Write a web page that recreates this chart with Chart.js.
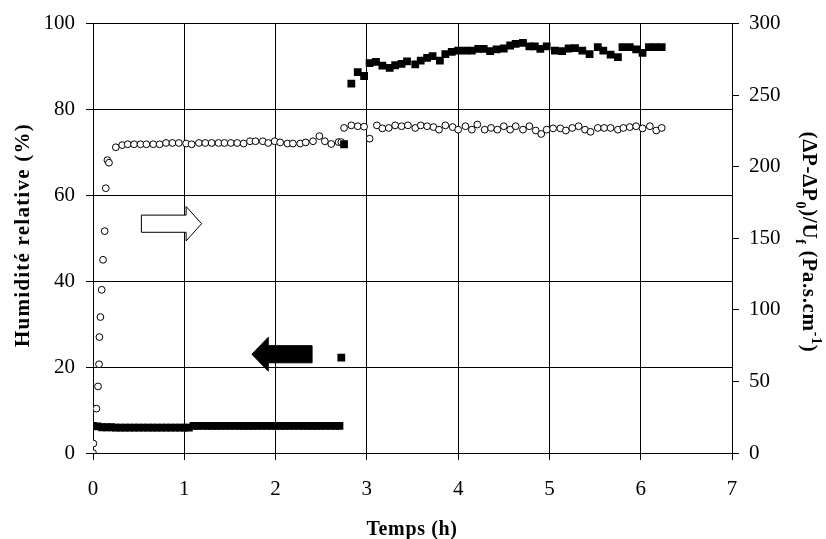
<!DOCTYPE html>
<html>
<head>
<meta charset="utf-8">
<script src="https://cdn.jsdelivr.net/npm/chart.js@4.4.1/dist/chart.umd.min.js"></script>
<style>
  html, body { margin: 0; padding: 0; background: #fff; }
  #wrap { position: relative; width: 826px; height: 539px; }
</style>
</head>
<body>
<div id="wrap"><canvas id="c"></canvas></div>
<script>
// humidity (left axis, %) - filled squares
const squareT = [0, 0.05, 0.1, 0.15, 0.2, 0.25, 0.3, 0.35, 0.4, 0.45, 0.5, 0.55, 0.6, 0.65, 0.7, 0.75, 0.8, 0.85, 0.9, 0.95,
  1.0, 1.05, 1.1, 1.15, 1.2, 1.25, 1.3, 1.35, 1.4, 1.45, 1.5, 1.55, 1.6, 1.65, 1.7, 1.75, 1.8, 1.85, 1.9, 1.95,
  2.0, 2.05, 2.1, 2.15, 2.2, 2.25, 2.3, 2.35, 2.4, 2.45, 2.5, 2.55, 2.6, 2.65, 2.7,
  2.72, 2.75, 2.83, 2.9, 2.97, 3.03, 3.1, 3.17, 3.25, 3.31, 3.38, 3.44, 3.53, 3.59, 3.66, 3.72, 3.8, 3.86, 3.93,
  4.0, 4.08, 4.15, 4.22, 4.28, 4.35, 4.42, 4.5, 4.57, 4.63, 4.71, 4.78, 4.84, 4.9, 4.97,
  5.06, 5.14, 5.21, 5.28, 5.36, 5.44, 5.53, 5.59, 5.67, 5.75, 5.8, 5.88, 5.95, 6.02, 6.09, 6.16, 6.23];
const squareV = [6.3, 6.2, 6.0, 6.0, 6.0, 5.9, 5.9, 5.9, 5.9, 5.9, 5.9, 5.9, 5.9, 5.9, 5.9, 5.9, 5.9, 5.9, 5.9, 5.9,
  5.9, 5.9, 6.3, 6.3, 6.3, 6.3, 6.3, 6.3, 6.3, 6.3, 6.3, 6.3, 6.3, 6.3, 6.3, 6.3, 6.3, 6.3, 6.3, 6.3,
  6.3, 6.3, 6.3, 6.3, 6.3, 6.3, 6.3, 6.3, 6.3, 6.3, 6.3, 6.3, 6.3, 6.3, 6.3,
  22.2, 71.9, 86.0, 88.7, 87.8, 90.8, 91.1, 90.2, 89.7, 90.3, 90.6, 91.2, 90.5, 91.4, 92.0, 92.4, 91.4, 92.9, 93.4,
  93.7, 93.7, 93.7, 94.1, 94.1, 93.6, 94.0, 94.2, 94.9, 95.3, 95.5, 94.7, 94.7, 94.1, 94.7,
  93.7, 93.6, 94.2, 94.3, 93.7, 92.9, 94.5, 93.7, 92.8, 92.2, 94.5, 94.5, 94.0, 93.2, 94.5, 94.5, 94.5];

// (dP-dP0)/Uf (right axis, Pa.s.cm-1) - open circles
const circleT = [0, 0.004, 0.037, 0.055, 0.066, 0.07, 0.081, 0.095, 0.11, 0.128, 0.14, 0.158, 0.175, 0.25,
  0.32, 0.38, 0.45, 0.52, 0.585, 0.66, 0.73, 0.8, 0.87, 0.94, 1.02, 1.08, 1.16, 1.23, 1.3, 1.375, 1.44, 1.51, 1.58, 1.65,
  1.72, 1.78, 1.86, 1.92, 1.99, 2.05, 2.13, 2.19, 2.27, 2.33, 2.41, 2.48, 2.54, 2.61, 2.69, 2.72,
  2.75, 2.83, 2.9, 2.97, 3.03, 3.11, 3.17, 3.24, 3.31, 3.38, 3.45, 3.53, 3.59, 3.66, 3.73, 3.79, 3.86, 3.94,
  4.0, 4.08, 4.15, 4.21, 4.29, 4.36, 4.43, 4.5, 4.57, 4.63, 4.71, 4.78, 4.85, 4.91, 4.97,
  5.04, 5.12, 5.18, 5.25, 5.32, 5.39, 5.45, 5.53, 5.6, 5.67, 5.75, 5.81, 5.88, 5.95, 6.02, 6.1, 6.17, 6.23];
const circleV = [0, 6.6, 31, 46.5, 62, 81, 95, 114, 135, 155, 185, 204.6, 202.8, 213.6,
  215.1, 215.7, 215.7, 215.7, 215.7, 215.7, 215.7, 216.6, 216.6, 216.6, 216.2, 215.7, 216.6, 216.6, 216.6, 216.6, 216.6, 216.6, 216.6, 216.2,
  217.8, 217.8, 217.8, 216.6, 217.8, 217.0, 216.2, 216.2, 216.2, 217.0, 217.8, 221.4, 217.8, 215.9, 217.2, 217.2,
  227.1, 228.9, 228.3, 228.0, 219.6, 228.9, 226.8, 227.1, 228.9, 228.3, 228.9, 227.1, 228.9, 228.3, 227.7, 225.9, 228.9, 227.7,
  225.9, 228.3, 225.9, 229.5, 225.9, 227.1, 225.9, 228.3, 225.9, 228.3, 225.9, 228.3, 225.3, 222.9, 225.9,
  226.8, 226.8, 225.3, 227.1, 228.3, 225.9, 224.4, 227.1, 227.1, 227.1, 225.9, 227.1, 227.7, 228.3, 226.8, 228.3, 225.3, 227.1];

const xTicks = [0, 1, 2, 3, 4, 5, 6, 7];
const leftTicks = [0, 20, 40, 60, 80, 100];
const rightTicks = [0, 50, 100, 150, 200, 250, 300];

const SERIF = "'Liberation Serif', 'Times New Roman', serif";
const TICK_FONT = { family: SERIF, size: 21 };

// draws text runs along a line, stretched with letter spacing to a given length
function drawRuns(ctx, runs, cx, cy, angle, size, length) {
  ctx.save();
  ctx.translate(cx, cy);
  ctx.rotate(angle);
  ctx.fillStyle = '#000';
  ctx.textBaseline = 'alphabetic';
  ctx.letterSpacing = '0px';
  let natural = 0, chars = 0;
  runs.forEach(r => {
    ctx.font = `bold ${Math.round(size * (r.s || 1))}px ${SERIF}`;
    natural += ctx.measureText(r.t).width;
    chars += r.t.length;
  });
  const sp = (length - natural) / chars;
  ctx.letterSpacing = sp.toFixed(2) + 'px';
  let x = -length / 2;
  runs.forEach(r => {
    ctx.font = `bold ${Math.round(size * (r.s || 1))}px ${SERIF}`;
    ctx.fillText(r.t, x, size * 0.35 + (r.dy || 0) * size);
    x += ctx.measureText(r.t).width;
  });
  ctx.restore();
}

function arrow(ctx, xs, ys, tail, base, tip, yc, body, head, fill) {
  const y = v => ys.getPixelForValue(v), x = v => xs.getPixelForValue(v);
  ctx.beginPath();
  ctx.moveTo(x(tail), y(yc + body));
  ctx.lineTo(x(base), y(yc + body));
  ctx.lineTo(x(base), y(yc + head));
  ctx.lineTo(x(tip), y(yc));
  ctx.lineTo(x(base), y(yc - head));
  ctx.lineTo(x(base), y(yc - body));
  ctx.lineTo(x(tail), y(yc - body));
  ctx.closePath();
  ctx.fillStyle = fill;
  ctx.fill();
  ctx.lineWidth = 1;
  ctx.strokeStyle = '#000';
  ctx.stroke();
}

const decor = {
  id: 'decor',
  afterDatasetsDraw(chart) {
    const { ctx, scales } = chart;
    ctx.save();
    arrow(ctx, scales.x, scales.y, 0.53, 1.02, 1.19, 53.4, 2.0, 4.0, '#fff');
    arrow(ctx, scales.x, scales.y, 2.40, 1.92, 1.74, 23.0, 2.0, 3.95, '#000');
    ctx.restore();
  },
  afterDraw(chart) {
    const { ctx } = chart;
    drawRuns(ctx, [{ t: 'Humidité relative (%)' }], 22, 235, -Math.PI / 2, 21, 224);
    drawRuns(ctx, [{ t: 'Temps (h)' }], 412, 528, 0, 20, 91);
    drawRuns(ctx, [
      { t: '(ΔP-ΔP' }, { t: '0', s: 0.65, dy: 0.3 }, { t: ')/U' }, { t: 'f', s: 0.65, dy: 0.3 },
      { t: ' (Pa.s.cm' }, { t: '-1', s: 0.65, dy: -0.45 }, { t: ')' }
    ], 810, 242, Math.PI / 2, 21, 221);
  }
};

const gridBase = { color: '#000', lineWidth: 1, tickLength: 7, tickColor: '#000' };

new Chart(document.getElementById('c'), {
  type: 'scatter',
  data: {
    datasets: [
      {
        label: 'Humidité relative',
        data: squareT.map((t, i) => ({ x: t, y: squareV[i] })),
        yAxisID: 'y',
        pointStyle: 'rect',
        pointRadius: 5.5,
        pointBorderWidth: 0,
        backgroundColor: '#000',
        borderColor: '#000'
      },
      {
        label: '(ΔP-ΔP0)/Uf',
        data: circleT.map((t, i) => ({ x: t, y: circleV[i] })),
        yAxisID: 'y2',
        pointStyle: 'circle',
        pointRadius: 3.4,
        pointBorderWidth: 1,
        backgroundColor: '#fff',
        borderColor: '#000'
      }
    ]
  },
  options: {
    responsive: true,
    maintainAspectRatio: false,
    animation: false,
    layout: { padding: { top: 22, left: 0, right: 0, bottom: 0 } },
    plugins: { legend: { display: false }, tooltip: { enabled: false } },
    scales: {
      x: {
        type: 'linear', position: 'bottom', min: 0, max: 7,
        afterBuildTicks: s => { s.ticks = xTicks.map(v => ({ value: v })); },
        afterFit: s => { s.height = 86; },
        ticks: { color: '#000', font: TICK_FONT, padding: 17, maxRotation: 0 },
        grid: gridBase,
        border: { color: '#000', width: 1 }
      },
      y: {
        type: 'linear', position: 'left', min: 0, max: 100,
        afterBuildTicks: s => { s.ticks = leftTicks.map(v => ({ value: v })); },
        afterFit: s => { s.width = 93; },
        ticks: { color: '#000', font: TICK_FONT, padding: 11 },
        grid: gridBase,
        border: { color: '#000', width: 1 }
      },
      y2: {
        type: 'linear', position: 'right', min: 0, max: 300,
        afterBuildTicks: s => { s.ticks = rightTicks.map(v => ({ value: v })); },
        afterFit: s => { s.width = 94; },
        ticks: { color: '#000', font: TICK_FONT, padding: 10 },
        grid: { ...gridBase, drawOnChartArea: false },
        border: { color: '#000', width: 1 }
      }
    }
  },
  plugins: [decor]
});
</script>
</body>
</html>
